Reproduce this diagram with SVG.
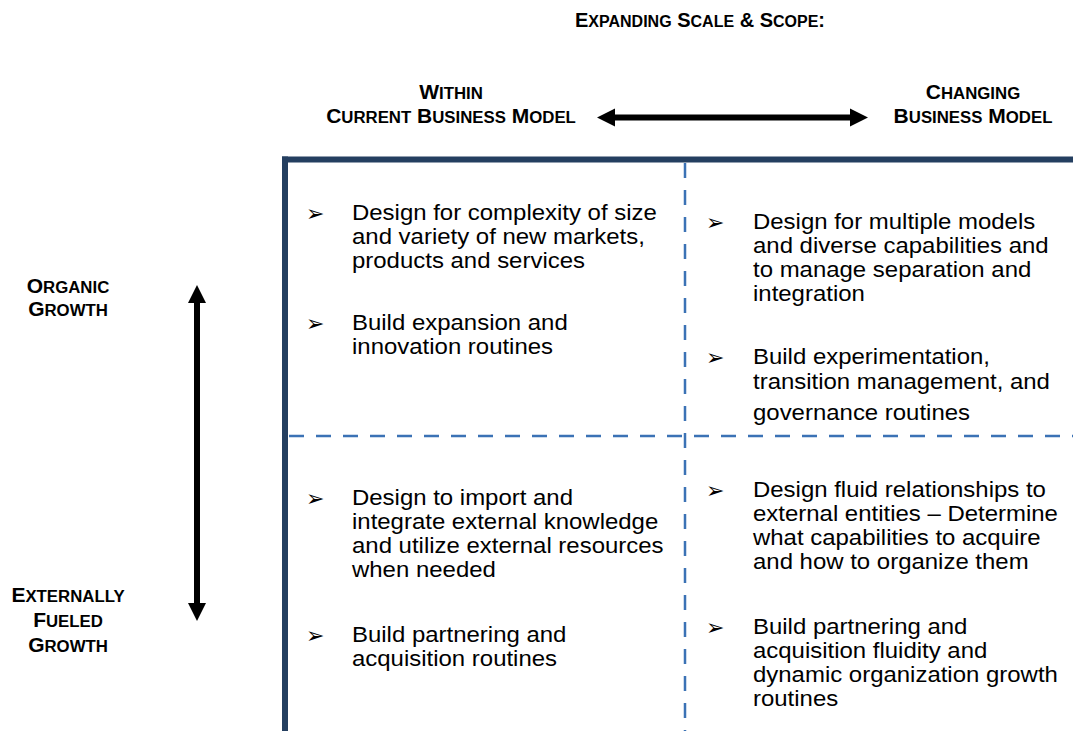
<svg xmlns="http://www.w3.org/2000/svg" width="1073" height="731" viewBox="0 0 1073 731">
<style>
.hd{font-family:"Liberation Sans",Arial,sans-serif;font-weight:bold;font-size:21px;fill:#000}
.sc{font-size:16.8px}
.tt{font-size:20px}
.tt .sc{font-size:16px}
.bd{font-family:"Liberation Sans",Arial,sans-serif;font-size:21.5px;fill:#000}
.bl{font-family:"DejaVu Sans",sans-serif;font-size:22px;fill:#000}
.frame{stroke:#243F60;stroke-width:6;fill:none}
.dash{stroke:#3B72B5;stroke-width:2.5;stroke-dasharray:15 12;fill:none}
.arr{fill:#000}
</style>
<rect width="1073" height="731" fill="#fff"/>
<g id="title">
<text class="hd tt" x="700" y="27" text-anchor="middle">E<tspan class="sc">XPANDING</tspan> S<tspan class="sc">CALE</tspan> &amp; S<tspan class="sc">COPE</tspan>:</text>
</g>
<g id="col-current">
<text class="hd" x="451" y="99" text-anchor="middle">W<tspan class="sc">ITHIN</tspan></text>
<text class="hd" x="451" y="123" text-anchor="middle">C<tspan class="sc">URRENT</tspan> B<tspan class="sc">USINESS</tspan> M<tspan class="sc">ODEL</tspan></text>
</g>
<g id="col-changing">
<text class="hd" x="973" y="99" text-anchor="middle">C<tspan class="sc">HANGING</tspan></text>
<text class="hd" x="973" y="123" text-anchor="middle">B<tspan class="sc">USINESS</tspan> M<tspan class="sc">ODEL</tspan></text>
</g>
<g id="row-organic">
<text class="hd" x="68" y="293" text-anchor="middle">O<tspan class="sc">RGANIC</tspan></text>
<text class="hd" x="68" y="316" text-anchor="middle">G<tspan class="sc">ROWTH</tspan></text>
</g>
<g id="row-external">
<text class="hd" x="68" y="602" text-anchor="middle">E<tspan class="sc">XTERNALLY</tspan></text>
<text class="hd" x="68" y="627" text-anchor="middle">F<tspan class="sc">UELED</tspan></text>
<text class="hd" x="68" y="652" text-anchor="middle">G<tspan class="sc">ROWTH</tspan></text>
</g>
<g id="grid">
<line class="frame" x1="282" y1="159.5" x2="1073" y2="159.5"/>
<line class="frame" x1="285" y1="156.5" x2="285" y2="731"/>
<line class="dash" x1="685" y1="163" x2="685" y2="731"/>
<line class="dash" x1="289" y1="436" x2="1073" y2="436"/>
</g>
<g id="connectors">
<polygon class="arr" points="597,117.5 615,108.5 615,114.5 850,114.5 850,108.5 868,117.5 850,126.5 850,120.5 615,120.5 615,126.5"/>
<polygon class="arr" points="197,285 206,303 200,303 200,603 206,603 197,621 188,603 194,603 194,303 188,303"/>
</g>
<g id="cell-organic-current">
<text class="bl" x="306" y="221">➢</text>
<text class="bl" x="306" y="331">➢</text>
<g transform="matrix(1.115 0 0 1 352 0)">
<text class="bd" x="0" y="220">Design for complexity of size</text>
<text class="bd" x="0" y="244">and variety of new markets,</text>
<text class="bd" x="0" y="268">products and services</text>
<text class="bd" x="0" y="330">Build expansion and</text>
<text class="bd" x="0" y="354">innovation routines</text>
</g>
</g>
<g id="cell-organic-changing">
<text class="bl" x="706" y="230">➢</text>
<text class="bl" x="706" y="365">➢</text>
<g transform="matrix(1.115 0 0 1 753 0)">
<text class="bd" x="0" y="229">Design for multiple models</text>
<text class="bd" x="0" y="253">and diverse capabilities and</text>
<text class="bd" x="0" y="277">to manage separation and</text>
<text class="bd" x="0" y="301">integration</text>
<text class="bd" x="0" y="364">Build experimentation,</text>
<text class="bd" x="0" y="389">transition management, and</text>
<text class="bd" x="0" y="420">governance routines</text>
</g>
</g>
<g id="cell-external-current">
<text class="bl" x="306" y="506">➢</text>
<text class="bl" x="306" y="643">➢</text>
<g transform="matrix(1.115 0 0 1 352 0)">
<text class="bd" x="0" y="505">Design to import and</text>
<text class="bd" x="0" y="529">integrate external knowledge</text>
<text class="bd" x="0" y="553">and utilize external resources</text>
<text class="bd" x="0" y="577">when needed</text>
<text class="bd" x="0" y="642">Build partnering and</text>
<text class="bd" x="0" y="666">acquisition routines</text>
</g>
</g>
<g id="cell-external-changing">
<text class="bl" x="706" y="498">➢</text>
<text class="bl" x="706" y="635">➢</text>
<g transform="matrix(1.115 0 0 1 753 0)">
<text class="bd" x="0" y="497">Design fluid relationships to</text>
<text class="bd" x="0" y="521">external entities – Determine</text>
<text class="bd" x="0" y="545">what capabilities to acquire</text>
<text class="bd" x="0" y="569">and how to organize them</text>
<text class="bd" x="0" y="634">Build partnering and</text>
<text class="bd" x="0" y="658">acquisition fluidity and</text>
<text class="bd" x="0" y="682">dynamic organization growth</text>
<text class="bd" x="0" y="706">routines</text>
</g>
</g>
</svg>
